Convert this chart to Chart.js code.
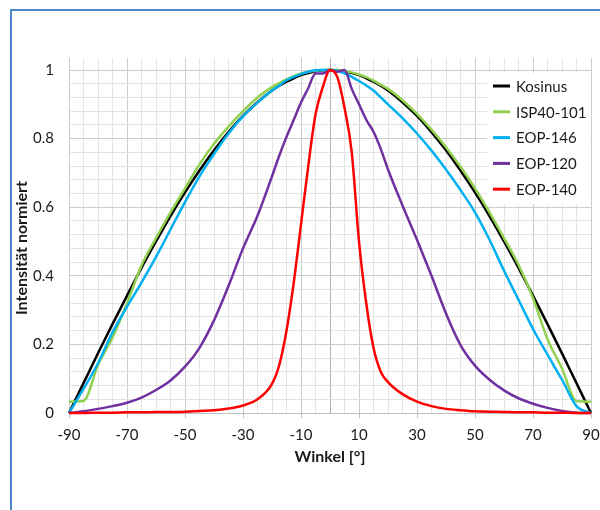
<!DOCTYPE html>
<html lang="de">
<head>
<meta charset="UTF-8">
<title>Abstrahlcharakteristik</title>
<script src="https://cdn.jsdelivr.net/npm/chart.js"></script>
<style>
  html, body { margin: 0; padding: 0; background: #fff; overflow: hidden; }
  #frame { position: absolute; left: 10px; top: 9px; width: 700px; height: 600px; border: 2px solid #4a86c8; }
  #wrap { position: absolute; left: 0; top: 0; width: 600px; height: 510px; }
</style>
</head>
<body>
<div id="frame"></div>
<div id="wrap"><canvas id="myChart" width="600" height="510"></canvas></div>

<script>
// Winkel (x-Werte)
const angles = [-90,-85,-80,-75,-70,-65,-60,-55,-50,-45,-40,-35,-30,-25,-20,-17.5,-15,-12.5,-10,-7.5,-5,-2.5,0,
                2.5,5,7.5,10,12.5,15,17.5,20,25,30,35,40,45,50,55,60,65,70,75,80,85,90];

// Messreihen
const kosinus = [0,0.087,0.174,0.259,0.342,0.423,0.5,0.574,0.643,0.707,0.766,0.819,0.866,0.906,0.94,0.954,0.966,0.976,0.985,0.991,0.996,0.999,1,
                 0.999,0.996,0.991,0.985,0.976,0.966,0.954,0.94,0.906,0.866,0.819,0.766,0.707,0.643,0.574,0.5,0.423,0.342,0.259,0.174,0.087,0];
const isp40 = [0.033,0.035,0.14,0.22,0.32,0.43,0.51,0.585,0.655,0.725,0.785,0.835,0.88,0.92,0.95,0.962,0.973,0.982,0.99,0.995,0.998,1,1,
               1,0.997,0.993,0.987,0.979,0.969,0.957,0.945,0.912,0.872,0.826,0.775,0.718,0.655,0.585,0.51,0.432,0.335,0.215,0.13,0.035,0.033];
const eop146 = [0,0.07,0.145,0.235,0.31,0.38,0.455,0.535,0.615,0.69,0.755,0.815,0.865,0.905,0.94,0.955,0.97,0.98,0.988,0.995,0.999,1,1,
                0.998,0.99,0.98,0.968,0.955,0.94,0.92,0.9,0.86,0.815,0.765,0.71,0.65,0.585,0.505,0.415,0.33,0.245,0.17,0.097,0.02,0];
const eop120 = [0,0.005,0.012,0.02,0.03,0.045,0.067,0.095,0.135,0.19,0.27,0.37,0.48,0.575,0.69,0.75,0.805,0.855,0.905,0.947,0.99,0.99,1,
                0.995,1,0.945,0.9,0.855,0.82,0.77,0.71,0.605,0.505,0.4,0.29,0.198,0.138,0.097,0.066,0.043,0.027,0.015,0.006,0.001,0];
const eop140 = [0,0,0.001,0.001,0.002,0.002,0.003,0.003,0.004,0.006,0.008,0.013,0.022,0.04,0.085,0.14,0.24,0.38,0.55,0.72,0.87,0.95,1,
                0.98,0.89,0.76,0.5,0.32,0.19,0.12,0.09,0.055,0.033,0.02,0.012,0.008,0.005,0.004,0.003,0.002,0.002,0.001,0.001,0,0];

const seriesNames = ['Kosinus','ISP40-101','EOP-146','EOP-120','EOP-140'];
const seriesData = [kosinus, isp40, eop146, eop120, eop140];
const seriesColors = ['#000000','#92d050','#00b0f0','#7030a0','#ff0000'];

// Achsen
const xTickLabels = [-90,-70,-50,-30,-10,10,30,50,70,90];
const yTickLabels = [0,0.2,0.4,0.6,0.8,1];

Chart.defaults.font.family = 'Lato';
Chart.defaults.font.size = 15;
Chart.defaults.color = '#1a1a1a';

const isMajorX = v => xTickLabels.includes(v);
const isMajorY = v => yTickLabels.some(t => Math.abs(t - v) < 1e-6);

// Legende im Diagramm + y-Achsentitel
const innerLegend = {
    id: 'innerLegend',
    afterDraw(chart) {
        const ctx = chart.ctx;
        ctx.save();
        ctx.fillStyle = '#ffffff';
        ctx.fillRect(487, 73, 103, 131);
        ctx.font = '15px Lato';
        ctx.textBaseline = 'middle';
        ctx.textAlign = 'left';
        seriesNames.forEach((name, i) => {
            const y = 86 + i * 25.8;
            ctx.strokeStyle = seriesColors[i];
            ctx.lineWidth = 3;
            ctx.beginPath();
            ctx.moveTo(493, y);
            ctx.lineTo(510, y);
            ctx.stroke();
            ctx.fillStyle = '#1a1a1a';
            ctx.fillText(name, 516, y + 1);
        });
        // y-Achsentitel
        ctx.translate(22, 248);
        ctx.rotate(-Math.PI / 2);
        ctx.font = 'bold 16px Lato';
        ctx.textAlign = 'center';
        ctx.fillText('Intensität normiert', 0, 0);
        ctx.restore();
    }
};

const datasets = seriesNames.map((name, i) => ({
    label: name,
    data: angles.map((a, k) => ({x: a, y: seriesData[i][k]})),
    borderColor: seriesColors[i],
    backgroundColor: seriesColors[i],
    borderWidth: 2.5,
    pointRadius: 0,
    cubicInterpolationMode: 'monotone',
    clip: false,
    order: 5 - i
}));

const ctx = document.querySelector('#myChart').getContext('2d');
const myChart = new Chart(ctx, {
    type: 'line',
    data: { datasets: datasets },
    options: {
        responsive: false,
        animation: false,
        layout: { padding: { left: 8, right: 9, top: 58, bottom: 40 } },
        plugins: { legend: { display: false }, tooltip: { enabled: false } },
        scales: {
            x: {
                type: 'linear',
                min: -90,
                max: 90,
                afterBuildTicks: (s) => {
                    const t = [];
                    for (let v = -90; v <= 90; v += 5) t.push({value: v});
                    s.ticks = t;
                },
                afterFit: (s) => { s.height = 57; s.paddingLeft = 0; s.paddingRight = 0; },
                ticks: {
                    autoSkip: false,
                    maxRotation: 0,
                    padding: 8,
                    callback: (v) => isMajorX(v) ? String(v) : ''
                },
                grid: {
                    color: (c) => c.tick && c.tick.value === 0 ? '#b4b4b4' : (c.tick && isMajorX(c.tick.value) ? '#cccccc' : '#e4e4e4'),
                    tickColor: (c) => c.tick && isMajorX(c.tick.value) ? '#bfbfbf' : 'rgba(0,0,0,0)',
                    tickLength: 5
                },
                border: { color: '#bfbfbf' },
                title: { display: true, text: 'Winkel [°]', font: { size: 16, weight: 'bold' }, color: '#1a1a1a' }
            },
            y: {
                min: 0,
                max: 1.035,
                afterBuildTicks: (s) => {
                    const t = [];
                    for (let k = 0; k <= 25; k++) t.push({value: Math.round(k * 4) / 100});
                    s.ticks = t;
                },
                afterFit: (s) => { s.width = 61; },
                ticks: {
                    autoSkip: false,
                    padding: 15,
                    callback: (v) => isMajorY(v) ? String(Math.round(v * 10) / 10) : ''
                },
                grid: {
                    color: (c) => c.tick && isMajorY(c.tick.value) ? '#cccccc' : '#e4e4e4',
                    drawTicks: false
                },
                border: { color: '#cccccc' }
            }
        }
    },
    plugins: [innerLegend]
});
</script>
</body>
</html>
